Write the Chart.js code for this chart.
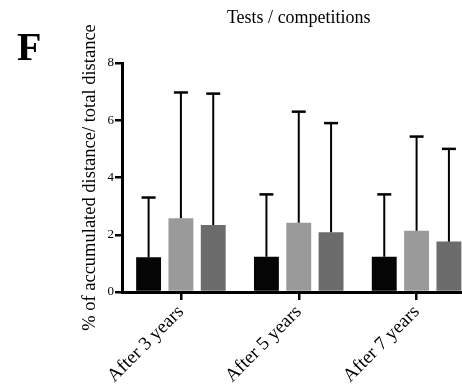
<!DOCTYPE html>
<html>
<head>
<meta charset="utf-8">
<script src="https://cdn.jsdelivr.net/npm/chart.js@4/dist/chart.umd.min.js"></script>
<style>
  html, body { margin: 0; padding: 0; background: #fff; overflow: hidden; }
  #wrap { position: relative; width: 480px; height: 389px; }
</style>
</head>
<body>
<div id="wrap"><canvas id="c" width="480" height="389"></canvas></div>
<script>
// Category labels along the x axis
const categories = ['After 3 years', 'After 5 years', 'After 7 years'];

// Means and standard deviations (% of accumulated distance / total distance)
const blackMeans = [1.21, 1.23, 1.23];
const blackSD    = [2.09, 2.18, 2.18];
const lightMeans = [2.58, 2.42, 2.14];
const lightSD    = [4.39, 3.88, 3.29];
const darkMeans  = [2.34, 2.09, 1.76];
const darkSD     = [4.59, 3.81, 3.24];

// Y axis ticks
const yTicks = [0, 2, 4, 6, 8];

const SERIF = '"Liberation Serif", "Times New Roman", serif';

// Upper error bars (mean + SD) with a cap
const errorBars = {
  id: 'errorBars',
  afterDatasetsDraw(chart) {
    const ctx = chart.ctx;
    const y = chart.scales.y;
    ctx.save();
    ctx.strokeStyle = '#000';
    chart.data.datasets.forEach((ds, di) => {
      const meta = chart.getDatasetMeta(di);
      meta.data.forEach((bar, i) => {
        const top = y.getPixelForValue(ds.data[i] + ds.sd[i]);
        ctx.lineWidth = 2;
        ctx.beginPath();
        ctx.moveTo(bar.x, bar.y);
        ctx.lineTo(bar.x, top);
        ctx.stroke();
        ctx.lineWidth = 2.5;
        ctx.beginPath();
        ctx.moveTo(bar.x - 7, top);
        ctx.lineTo(bar.x + 7, top);
        ctx.stroke();
      });
    });
    ctx.restore();
  }
};

// Panel letter and chart heading
const headings = {
  id: 'headings',
  afterDraw(chart) {
    const ctx = chart.ctx;
    const area = chart.chartArea;
    ctx.save();
    ctx.fillStyle = '#000';
    ctx.textBaseline = 'alphabetic';
    ctx.textAlign = 'center';
    ctx.font = '18px ' + SERIF;
    ctx.fillText('Tests / competitions', (area.left + area.right) / 2, 23);
    ctx.textAlign = 'left';
    ctx.font = 'bold 40px ' + SERIF;
    ctx.fillText('F', 17, 60);
    ctx.restore();
  }
};

new Chart(document.getElementById('c'), {
  type: 'bar',
  data: {
    labels: categories,
    datasets: [
      { label: 'Black', data: blackMeans, sd: blackSD, backgroundColor: '#050505' },
      { label: 'Light grey', data: lightMeans, sd: lightSD, backgroundColor: '#9a9a9a' },
      { label: 'Dark grey', data: darkMeans, sd: darkSD, backgroundColor: '#6c6c6c' }
    ]
  },
  options: {
    responsive: false,
    animation: false,
    devicePixelRatio: 1,
    categoryPercentage: 0.823,
    barPercentage: 0.77,
    layout: { padding: { top: 63, right: 4.5, left: 0, bottom: 0 } },
    plugins: { legend: { display: false }, tooltip: { enabled: false }, title: { display: false } },
    scales: {
      x: {
        offset: true,
        border: { display: true, color: '#000', width: 3 },
        grid: { display: true, offset: false, drawOnChartArea: false, drawTicks: true,
                tickLength: 8, color: '#000', lineWidth: 2.5 },
        ticks: { color: '#000', font: { family: SERIF, size: 19 }, minRotation: 45, maxRotation: 45, padding: 1 },
        afterFit(scale) { scale.height = 97; }
      },
      y: {
        min: 0, max: 8,
        border: { display: true, color: '#000', width: 3 },
        grid: { display: true, drawOnChartArea: false, drawTicks: true,
                tickLength: 7, color: '#000', lineWidth: 2.5 },
        afterBuildTicks(scale) { scale.ticks = yTicks.map(v => ({ value: v })); },
        ticks: { color: '#000', font: { family: SERIF, size: 13 }, padding: 1 },
        title: {
          display: true,
          text: '% of accumulated distance/ total distance',
          color: '#000',
          font: { family: SERIF, size: 18.5 },
          padding: { top: 79, bottom: 0 }
        },
        afterFit(scale) { scale.width = 122; }
      }
    }
  },
  plugins: [errorBars, headings]
});
</script>
</body>
</html>
